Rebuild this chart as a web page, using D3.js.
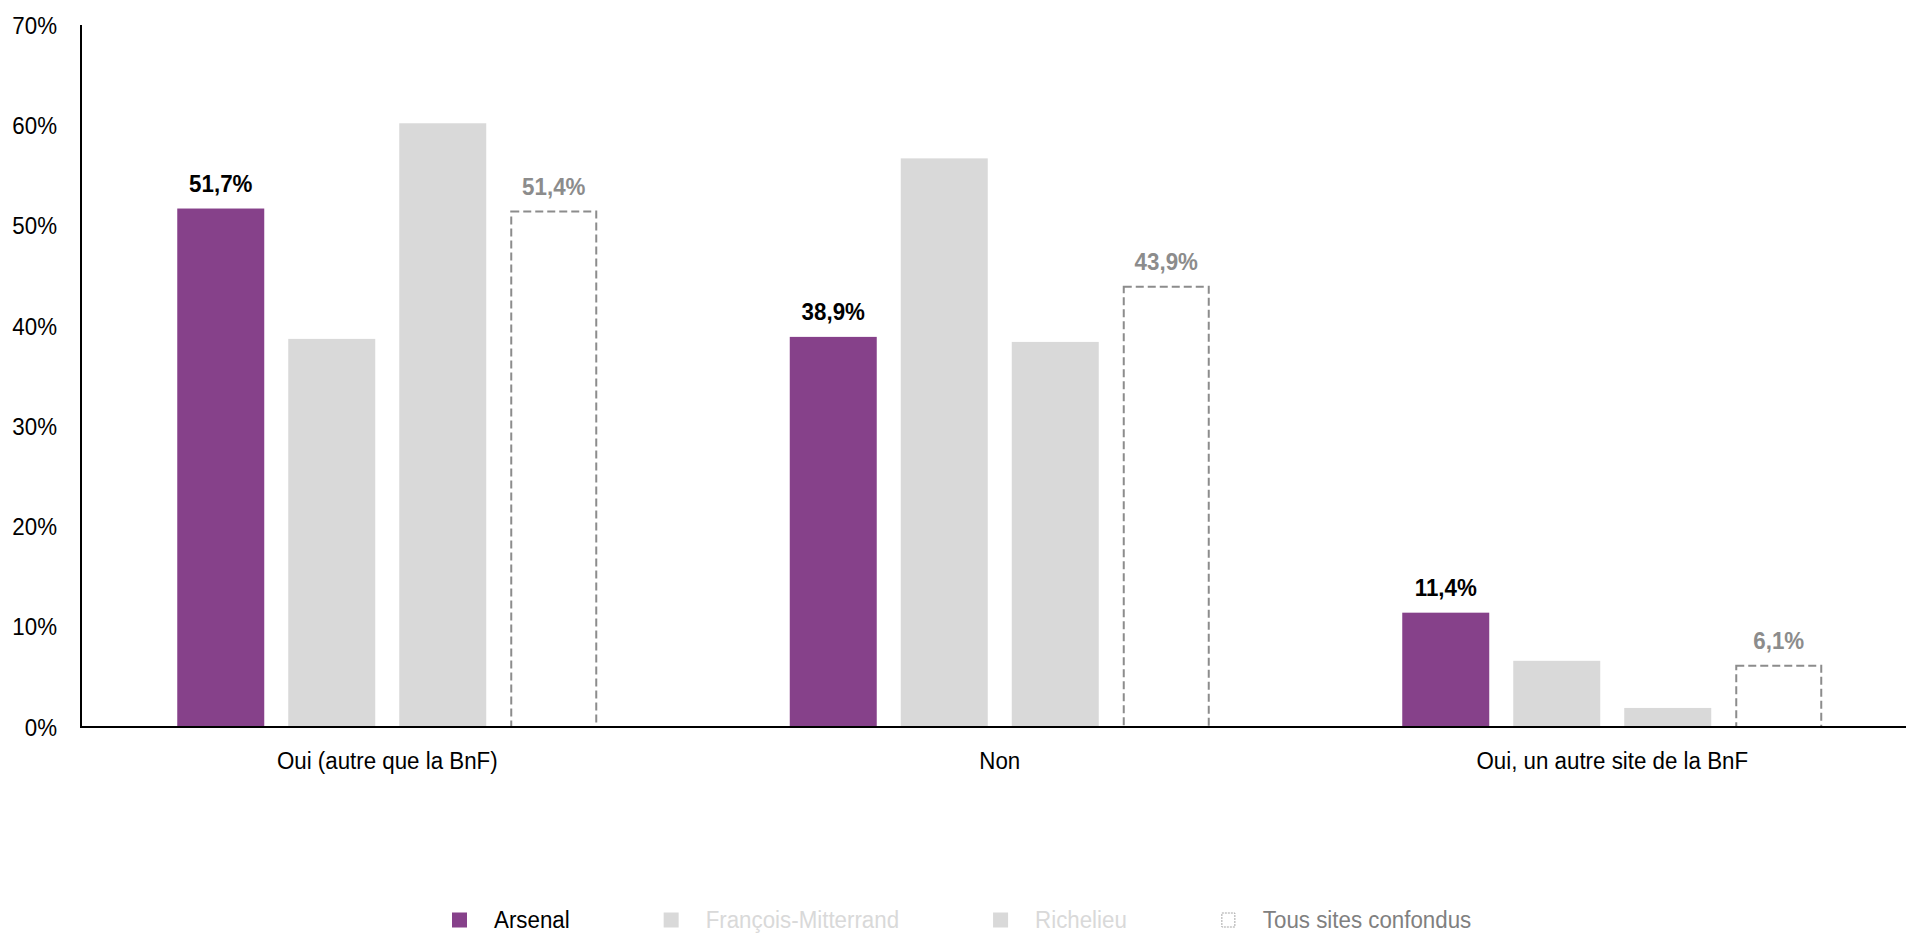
<!DOCTYPE html>
<html>
<head>
<meta charset="utf-8">
<script src="https://cdn.jsdelivr.net/npm/d3@7"></script>
<style>
  html, body { margin: 0; padding: 0; background: #fff; }
  svg { display: block; }
  text { font-family: "Liberation Sans", Arial, sans-serif; }
</style>
</head>
<body>
<svg id="chart" width="1906" height="933"></svg>
<script>
// ---- data ----
const categories = ["Oui (autre que la BnF)", "Non", "Oui, un autre site de la BnF"];
const seriesNames = ["Arsenal", "François-Mitterrand", "Richelieu", "Tous sites confondus"];
const arsenal = [51.7, 38.9, 11.4];
const francoisMitterrand = [38.7, 56.7, 6.6];
const richelieu = [60.2, 38.4, 1.9];
const tousSites = [51.4, 43.9, 6.1];
const yTicks = [0, 10, 20, 30, 40, 50, 60, 70];

const seriesValues = [arsenal, francoisMitterrand, richelieu, tousSites];
const seriesStyle = [
  { fill: "#86418A", stroke: "none", label: true, labelColor: "#000000", legendColor: "#000000" },
  { fill: "#D9D9D9", stroke: "none", label: false, labelColor: "#D9D9D9", legendColor: "#D9D9D9" },
  { fill: "#D9D9D9", stroke: "none", label: false, labelColor: "#D9D9D9", legendColor: "#D9D9D9" },
  { fill: "none", stroke: "#8C8C8C", label: true, labelColor: "#8C8C8C", legendColor: "#808080" }
];

const svg = d3.select("#chart");
const SX = 0.95;          // horizontal condensing of the text (narrow face)
const FS = 23.5;          // font size

const plotLeft = 81, plotTop = 25, plotBottom = 727;
const groupStep = 612.5;

const x0 = d3.scaleBand()
  .domain(categories)
  .range([plotLeft, plotLeft + groupStep * categories.length])
  .paddingInner(0).paddingOuter(0);

const slot = 111, barW = 87, inner = slot * seriesNames.length;
const x1 = d3.scaleBand()
  .domain(seriesNames)
  .range([(groupStep - inner) / 2, (groupStep + inner) / 2])
  .paddingInner((slot - barW) / slot)
  .paddingOuter((slot - barW) / slot / 2);

const y = d3.scaleLinear().domain([0, 70]).range([plotBottom, plotTop]);

const fmt = v => d3.format(".1f")(v).replace(".", ",") + "%";

function addText(sel, x, yy, txt, anchor) {
  return sel.append("text")
    .attr("transform", `translate(${x},${yy}) scale(${SX},1)`)
    .attr("text-anchor", anchor)
    .attr("font-size", FS)
    .text(txt);
}

// ---- bars ----
const rows = [];
categories.forEach((c, ci) => {
  seriesNames.forEach((s, si) => {
    rows.push({ cat: c, ser: s, si, v: seriesValues[si][ci] });
  });
});

const groups = svg.append("g");
rows.forEach(d => {
  const st = seriesStyle[d.si];
  const bx = x0(d.cat) + x1(d.ser);
  const r = groups.append("rect")
    .attr("x", bx + (st.stroke !== "none" ? 1 : 0))
    .attr("y", y(d.v))
    .attr("width", x1.bandwidth() - (st.stroke !== "none" ? 2 : 0))
    .attr("height", y(0) - y(d.v))
    .attr("fill", st.fill);
  if (st.stroke !== "none") {
    r.attr("stroke", st.stroke).attr("stroke-width", 2).attr("stroke-dasharray", "8,4");
  }
  if (st.label) {
    addText(groups, bx + x1.bandwidth() / 2, y(d.v) - 17, fmt(d.v), "middle")
      .attr("font-weight", "bold")
      .attr("fill", st.labelColor);
  }
});

// ---- axes ----
const yAxis = d3.axisLeft(y).tickValues(yTicks).tickSize(0).tickFormat(d => d + "%");
const gy = svg.append("g").attr("transform", `translate(${plotLeft},0)`).call(yAxis);
gy.select(".domain").remove();
gy.selectAll(".tick text").remove();
gy.selectAll(".tick").each(function(d) {
  d3.select(this).append("text")
    .attr("transform", `translate(-24,0) scale(${SX},1)`)
    .attr("text-anchor", "end")
    .attr("dy", "0.35em")
    .attr("font-size", FS)
    .attr("fill", "#000")
    .text(d + "%");
});

svg.append("line")
  .attr("x1", plotLeft).attr("x2", plotLeft)
  .attr("y1", plotTop).attr("y2", plotBottom + 1)
  .attr("stroke", "#000").attr("stroke-width", 2);
svg.append("line")
  .attr("x1", plotLeft - 1).attr("x2", 1906)
  .attr("y1", plotBottom).attr("y2", plotBottom)
  .attr("stroke", "#000").attr("stroke-width", 2);

const xAxis = d3.axisBottom(x0).tickSize(0).tickFormat("");
const gx = svg.append("g").attr("transform", `translate(0,${plotBottom})`).call(xAxis);
gx.select(".domain").remove();
gx.selectAll(".tick").each(function(d) {
  d3.select(this).append("text")
    .attr("transform", `translate(0,42) scale(${SX},1)`)
    .attr("text-anchor", "middle")
    .attr("font-size", FS)
    .attr("fill", "#000")
    .text(d);
});

// ---- legend ----
const legend = svg.append("g");
let lx = 452;
const ly = 920;
seriesNames.forEach((s, si) => {
  const st = seriesStyle[si];
  if (st.stroke !== "none") {
    legend.append("rect")
      .attr("x", lx + 1).attr("y", ly - 7).attr("width", 13).attr("height", 14)
      .attr("fill", "none").attr("stroke", "#A6A6A6").attr("stroke-width", 1)
      .attr("stroke-dasharray", "2,1");
  } else {
    legend.append("rect")
      .attr("x", lx).attr("y", ly - 7.5).attr("width", 15).attr("height", 15)
      .attr("fill", st.fill);
  }
  const t = addText(legend, lx + 42, ly + 8, s, "start").attr("fill", st.legendColor);
  const w = t.node().getComputedTextLength() * SX;
  lx = lx + 42 + w + 94;
});
</script>
</body>
</html>
